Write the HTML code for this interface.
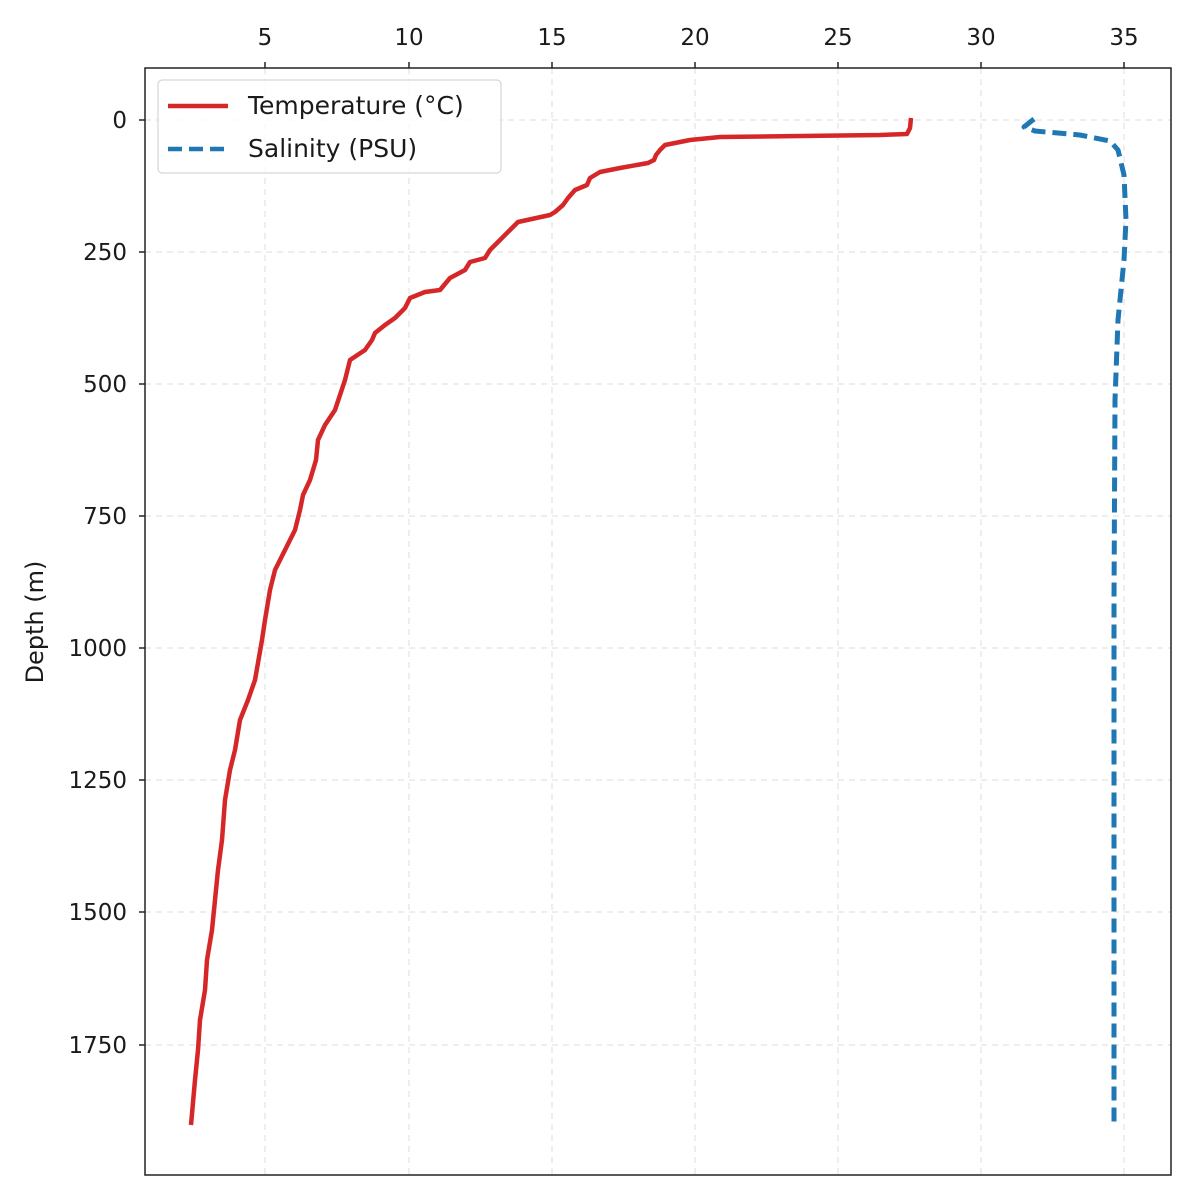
<!DOCTYPE html>
<html><head><style>body{margin:0;background:#fff}svg text{font-family:"DejaVu Sans","Liberation Sans",sans-serif;fill:#1a1a1a}</style></head>
<body>
<svg width="1189" height="1193" viewBox="0 0 1189 1193" xmlns="http://www.w3.org/2000/svg">
<g stroke="#ddd" stroke-width="1" stroke-dasharray="6,5">
<line x1="265" y1="68" x2="265" y2="1175"/><line x1="409" y1="68" x2="409" y2="1175"/><line x1="552" y1="68" x2="552" y2="1175"/><line x1="695" y1="68" x2="695" y2="1175"/><line x1="838" y1="68" x2="838" y2="1175"/><line x1="981" y1="68" x2="981" y2="1175"/><line x1="1124" y1="68" x2="1124" y2="1175"/>
<line x1="145" y1="120" x2="1171" y2="120"/><line x1="145" y1="252" x2="1171" y2="252"/><line x1="145" y1="384" x2="1171" y2="384"/><line x1="145" y1="516" x2="1171" y2="516"/><line x1="145" y1="648" x2="1171" y2="648"/><line x1="145" y1="780" x2="1171" y2="780"/><line x1="145" y1="912" x2="1171" y2="912"/><line x1="145" y1="1045" x2="1171" y2="1045"/>
</g>
<polyline fill="none" stroke="#d62728" stroke-width="4.5" stroke-linejoin="round" points="911,118 910,128 907,134 880,135 720,137 690,140 665,145 660,150 656,155 654,160 648,163 620,168 600,172 590,178 587,185 575,190 568,198 563,205 555,212 550,215 518,222 510,230 500,240 490,250 485,258 470,262 465,270 450,278 440,290 425,292 410,298 405,308 395,318 385,325 375,333 372,340 365,350 350,360 345,380 340,395 335,410 325,425 318,440 316,460 310,480 303,495 300,510 295,530 285,550 275,570 270,590 265,620 262,640 255,680 248,700 240,720 235,750 230,770 225,800 222,840 218,870 215,900 212,930 207,960 205,990 200,1020 198,1050 195,1080 191,1125"/>
<polyline fill="none" stroke="#1f77b4" stroke-width="5" stroke-dasharray="14,7" stroke-linejoin="round" points="1034,119 1024,127 1035,131 1080,135 1110,141 1118,150 1124,175 1126,220 1124,260 1118,320 1115,400 1114,600 1114,1125"/>
<rect x="145" y="68" width="1026" height="1107" fill="none" stroke="#222" stroke-width="1.5"/>
<g stroke="#222" stroke-width="1.5">
<line x1="265" y1="68" x2="265" y2="62"/><line x1="409" y1="68" x2="409" y2="62"/><line x1="552" y1="68" x2="552" y2="62"/><line x1="695" y1="68" x2="695" y2="62"/><line x1="838" y1="68" x2="838" y2="62"/><line x1="981" y1="68" x2="981" y2="62"/><line x1="1124" y1="68" x2="1124" y2="62"/>
<line x1="139" y1="120" x2="145" y2="120"/><line x1="139" y1="252" x2="145" y2="252"/><line x1="139" y1="384" x2="145" y2="384"/><line x1="139" y1="516" x2="145" y2="516"/><line x1="139" y1="648" x2="145" y2="648"/><line x1="139" y1="780" x2="145" y2="780"/><line x1="139" y1="912" x2="145" y2="912"/><line x1="139" y1="1045" x2="145" y2="1045"/>
</g>
<g font-size="23" text-anchor="middle">
<text x="265" y="45">5</text><text x="409" y="45">10</text><text x="552" y="45">15</text><text x="695" y="45">20</text><text x="838" y="45">25</text><text x="981" y="45">30</text><text x="1124" y="45">35</text>
</g>
<g font-size="23" text-anchor="end">
<text x="127" y="128">0</text><text x="127" y="260">250</text><text x="127" y="392">500</text><text x="127" y="524">750</text><text x="127" y="656">1000</text><text x="127" y="788">1250</text><text x="127" y="920">1500</text><text x="127" y="1053">1750</text>
</g>
<text transform="translate(43,622) rotate(-90)" font-size="24" text-anchor="middle">Depth (m)</text>
<rect x="158" y="80" width="343" height="93" rx="4" fill="#fff" fill-opacity="0.85" stroke="#ccc"/>
<line x1="168" y1="106" x2="228" y2="106" stroke="#d62728" stroke-width="4.5"/>
<line x1="168" y1="149" x2="228" y2="149" stroke="#1f77b4" stroke-width="4.5" stroke-dasharray="14,7"/>
<text x="248" y="114" font-size="25">Temperature (°C)</text>
<text x="248" y="157" font-size="25">Salinity (PSU)</text>
</svg>
</body></html>
